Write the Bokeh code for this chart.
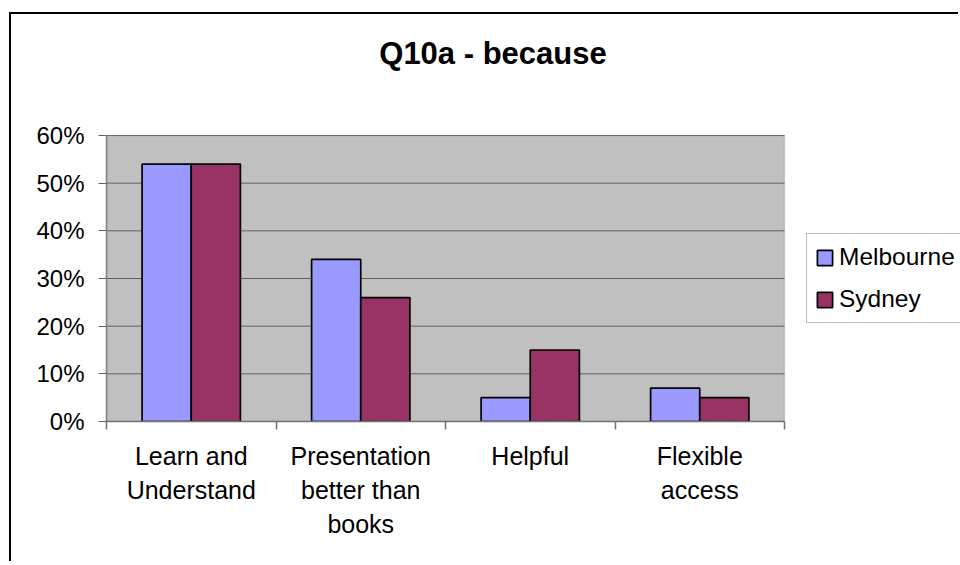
from bokeh.plotting import figure
from bokeh.models import (Range1d, LinearAxis, FixedTicker, Legend, LegendItem, Label,
                          BoxAnnotation, ColumnDataSource, PrintfTickFormatter)
from bokeh.transform import dodge
from bokeh.embed import file_html
from bokeh.resources import INLINE

# ---- data ----
categories = ["Learn and\nUnderstand", "Presentation\nbetter than\nbooks", "Helpful", "Flexible\naccess"]
melbourne = [54, 34, 5, 7]
sydney = [54, 26, 15, 5]
y_ticks = [0, 10, 20, 30, 40, 50, 60]
y_max = 60
series_names = ["Melbourne", "Sydney"]
series_colors = ["#9999FF", "#993366"]
title_text = "Q10a - because"

FONT = "Liberation Sans"

# ---- layout (pixels) ----
W, H = 949, 549
LEFT, BOTTOM = 95, 142
PLOT_W, PLOT_H = 678, 286          # size of the grey plot area
frame_w, frame_h = W - LEFT, H - BOTTOM

n = len(categories)
cat_pos = [i + 0.5 for i in range(n)]          # category centres on a 0..n axis
bounds = list(range(n + 1))                     # category boundaries (tick marks)
source = ColumnDataSource(dict(x=cat_pos, melbourne=melbourne, sydney=sydney))
grid_src = ColumnDataSource(dict(y=y_ticks, x0=[0] * len(y_ticks), x1=[n] * len(y_ticks)))

p = figure(width=W, height=H, output_backend="svg", toolbar_location=None,
           x_range=Range1d(0, n * frame_w / PLOT_W), y_range=Range1d(0, y_max * frame_h / PLOT_H),
           x_axis_location=None, y_axis_location=None,
           min_border_left=LEFT, min_border_right=0, min_border_top=0, min_border_bottom=BOTTOM)
p.margin = (12, 0, 0, 9)
p.styles = {"border-left": "2px solid black", "border-top": "2px solid black"}
p.background_fill_color = "white"
p.border_fill_color = "white"
p.outline_line_color = None
p.xgrid.visible = False
p.ygrid.visible = False

# grey plot area
p.add_layout(BoxAnnotation(left=0, right=n, bottom=0, top=y_max, fill_color="#C0C0C0",
                           fill_alpha=1, line_color=None, level="underlay"))
# horizontal grid lines
p.segment(x0="x0", x1="x1", y0="y", y1="y", source=grid_src, line_color="#606060", line_width=1)

# y axis
yax = LinearAxis(ticker=FixedTicker(ticks=y_ticks), formatter=PrintfTickFormatter(format="%d%%"))
yax.bounds = (0, y_max)
yax.axis_line_color = "#808080"
yax.axis_line_width = 1.5
yax.major_tick_line_color = "#606060"
yax.major_tick_out = 8
yax.major_tick_in = 0
yax.minor_tick_out = 0
yax.minor_tick_in = 0
yax.major_label_standoff = 14
yax.major_label_text_font = FONT
yax.major_label_text_font_size = "24px"
yax.major_label_text_color = "black"
p.add_layout(yax, "left")

# x axis: labels at centres, tick marks at boundaries (minor ticks)
xax = LinearAxis(ticker=FixedTicker(ticks=cat_pos, minor_ticks=bounds))
xax.bounds = (0, n)
xax.major_label_overrides = {c: lab for c, lab in zip(cat_pos, categories)}
xax.axis_line_color = "#707070"
xax.axis_line_width = 1.5
xax.major_tick_out = 0
xax.major_tick_in = 0
xax.major_tick_line_color = None
xax.minor_tick_line_color = "#707070"
xax.minor_tick_line_width = 1.5
xax.minor_tick_out = 8
xax.minor_tick_in = 0
xax.major_label_standoff = 12
xax.major_label_text_font = FONT
xax.major_label_text_font_size = "25px"
xax.major_label_text_color = "black"
xax.major_label_text_line_height = 1.23
xax.major_label_orientation = "horizontal"
p.add_layout(xax, "below")

bw = 0.29
r1 = p.vbar(x=dodge("x", -bw / 2), top="melbourne", width=bw, source=source,
            fill_color=series_colors[0], line_color="black", line_width=1.7)
r2 = p.vbar(x=dodge("x", bw / 2), top="sydney", width=bw, source=source,
            fill_color=series_colors[1], line_color="black", line_width=1.7)

# plot-area border on top
p.add_layout(BoxAnnotation(left=0, right=n, bottom=0, top=y_max, fill_color=None,
                           line_color="#808080", line_width=1.5))

legend = Legend(items=[LegendItem(label=series_names[0], renderers=[r1]),
                       LegendItem(label=series_names[1], renderers=[r2])],
                location=(700, 98))
legend.padding = 8
legend.spacing = 12
legend.margin = 0
legend.glyph_width = 19
legend.glyph_height = 19
legend.label_height = 30
legend.label_width = 140
legend.label_standoff = 5
legend.label_text_font = FONT
legend.label_text_font_size = "24.5px"
legend.label_text_color = "black"
legend.border_line_color = "#808080"
legend.border_line_width = 1.5
legend.background_fill_color = "white"
legend.background_fill_alpha = 1
p.add_layout(legend, "center")

title = Label(x=386.5, y=368, x_units="screen", y_units="screen", text=title_text,
              text_align="center", text_baseline="middle", text_font=FONT,
              text_font_size="31px", text_font_style="bold", text_color="black")
p.add_layout(title)

open("out.html", "w").write(file_html(p, INLINE))
